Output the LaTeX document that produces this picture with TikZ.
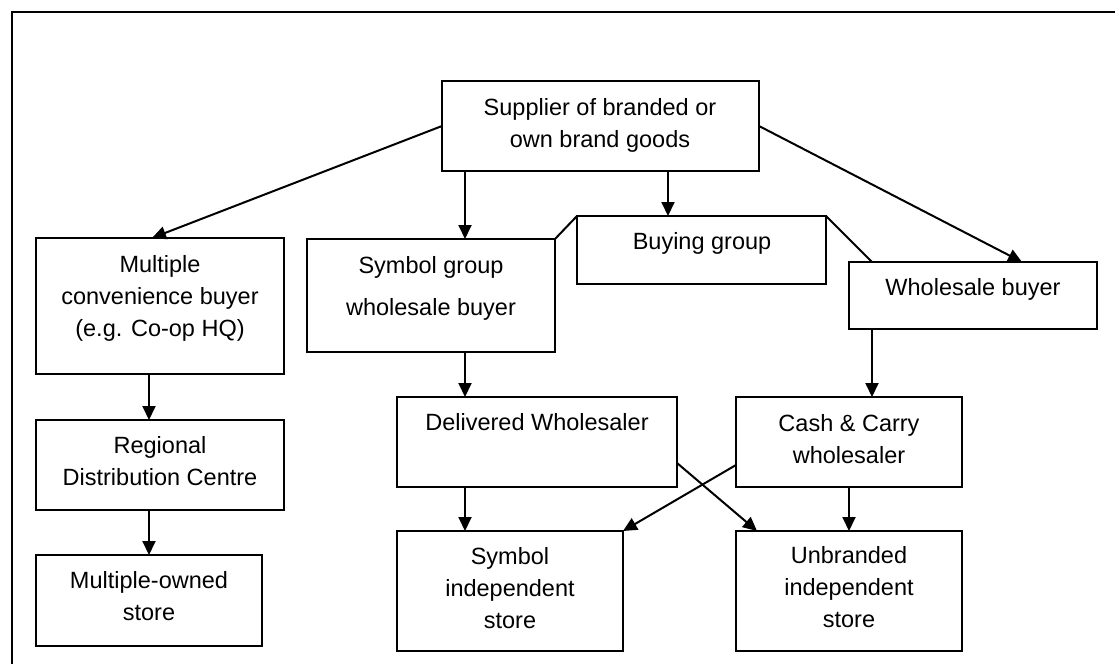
\documentclass[tikz,border=0pt]{standalone}
\usepackage{fontspec}
\setmainfont{Liberation Sans}
\usetikzlibrary{arrows.meta,calc}
\newcommand\mybox[5]{\node[box,minimum width={(#4-#2)*0.5pt},minimum height={(#5-#3)*0.5pt}] (#1) at ({(#2+#4)/2},{(#3+#5)/2}) {};}
\begin{document}
\begin{tikzpicture}[x=0.5pt,y=-0.5pt,
  box/.style={draw,line width=1pt,inner sep=0pt,outer sep=0pt},
  txt/.style={font=\fontsize{11.75}{16}\selectfont,align=center,anchor=base,inner sep=0pt},
  arr/.style={line width=1pt,-{Triangle[length=7pt,width=6.5pt]}},
  ln/.style={line width=1pt}]
\useasboundingbox (0,0) rectangle (1115,664);
\draw[line width=1.3pt] (12,664) -- (12,12) -- (1115,12);
% boxes
\mybox{sup}{442}{81}{759}{171}
\mybox{buy}{577}{216}{826}{284}
\mybox{symb}{307}{239}{555}{352}
\mybox{mult}{36}{238}{284}{374}
\mybox{wb}{849}{262}{1097}{329}
\mybox{reg}{36}{420}{284}{510}
\mybox{mos}{36}{555}{262}{646}
\mybox{del}{397}{397}{677}{487}
\mybox{cc}{736}{397}{962}{487}
\mybox{sis}{397}{531}{623}{651}
\mybox{ubs}{736}{531}{962}{651}
% texts (anchor = baseline of the last line)
\node[txt] (supT) at (600,147) {Supplier of branded or\\own brand goods};
\node[txt] (buyT) at (702,249) {Buying group};
\node[txt] (symbT) at (431,315) {Symbol group\\[5pt]wholesale buyer};
\node[txt] (multT) at (160,336) {Multiple\\convenience buyer\\(e.g. Co-op HQ)};
\node[txt] (wbT) at (973,295) {Wholesale buyer};
\node[txt] (regT) at (160,485) {Regional\\Distribution Centre};
\node[txt] (mosT) at (149,620) {Multiple-owned\\store};
\node[txt] (delT) at (537,430) {Delivered Wholesaler};
\node[txt] (ccT) at (849,463) {Cash \& Carry\\wholesaler};
\node[txt] (sisT) at (510,628) {Symbol\\independent\\store};
\node[txt] (ubsT) at (849,627) {Unbranded\\independent\\store};
% connectors
\draw[arr] (sup.west) -- ($(mult.north west)+(116,0)$);
\draw[arr] ($(sup.south west)+(23,0)$) -- ($(symb.north west)+(158,0)$);
\draw[arr] ($(sup.south west)+(226,0)$) -- ($(buy.north west)+(91,0)$);
\draw[arr] (sup.east) -- ($(wb.north west)+(173,0)$);
\draw[ln] (buy.north west) -- (symb.north east);
\draw[ln] (buy.north east) -- ($(wb.north west)+(23,0)$);
\draw[arr] ($(mult.south west)+(113,0)$) -- ($(reg.north west)+(113,0)$);
\draw[arr] ($(reg.south west)+(113,0)$) -- ($(mos.north west)+(113,0)$);
\draw[arr] ($(symb.south west)+(158,0)$) -- ($(del.north west)+(68,0)$);
\draw[arr] ($(wb.south west)+(23,0)$) -- ($(cc.north west)+(136,0)$);
\draw[arr] ($(del.south west)+(68,0)$) -- ($(sis.north west)+(68,0)$);
\draw[arr] (cc.south) -- (ubs.north);
\draw[arr] ($(del.east)+(0,21)$) -- ($(ubs.north west)+(21,0)$);
\draw[arr] ($(cc.west)+(0,23)$) -- (sis.north east);
\end{tikzpicture}
\end{document}
